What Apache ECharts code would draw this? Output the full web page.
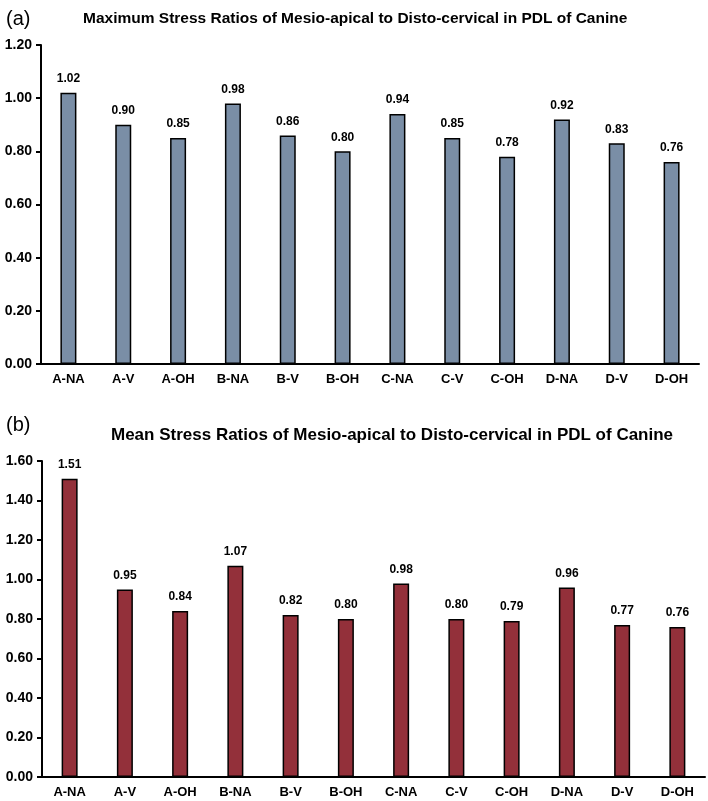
<!DOCTYPE html>
<html>
<head>
<meta charset="utf-8">
<script src="https://cdn.jsdelivr.net/npm/echarts@6/dist/echarts.min.js"></script>
<style>
  html, body { margin: 0; padding: 0; background: #fff; }
  #main { width: 708px; height: 801px; }
</style>
</head>
<body>
<div id="main"></div>
<script>
"use strict";

const categories = ["A-NA", "A-V", "A-OH", "B-NA", "B-V", "B-OH", "C-NA", "C-V", "C-OH", "D-NA", "D-V", "D-OH"];
const maxRatios = [1.02, 0.90, 0.85, 0.98, 0.86, 0.80, 0.94, 0.85, 0.78, 0.92, 0.83, 0.76];
const meanRatios = [1.51, 0.95, 0.84, 1.07, 0.82, 0.80, 0.98, 0.80, 0.79, 0.96, 0.77, 0.76];

let chartDom = document.getElementById("main");
let myChart = echarts.init(chartDom);

const font = "Liberation Sans, Arial, sans-serif";

function xAxisFor(idx) {
  return {
    type: "category",
    gridIndex: idx,
    data: categories,
    axisLine: { lineStyle: { color: "#000", width: 2 } },
    axisTick: { alignWithLabel: true, length: 5, lineStyle: { color: "#000", width: 2 } },
    axisLabel: { color: "#000", fontWeight: "bold", fontSize: 13, fontFamily: font, margin: 9, interval: 0 },
  };
}

function yAxisFor(idx, max) {
  return {
    type: "value",
    gridIndex: idx,
    min: 0,
    max: max,
    interval: 0.2,
    splitLine: { show: false },
    axisLine: { show: true, lineStyle: { color: "#000", width: 2 } },
    axisTick: { show: true, length: 5, lineStyle: { color: "#000", width: 2 } },
    axisLabel: {
      color: "#000", fontWeight: "bold", fontSize: 14, fontFamily: font, margin: 9,
      formatter: (v) => v.toFixed(2),
    },
  };
}

function barSeries(idx, data, color) {
  return {
    type: "bar",
    xAxisIndex: idx,
    yAxisIndex: idx,
    data: data,
    barWidth: 16,
    itemStyle: { color: color, borderColor: "#000", borderWidth: 1.5 },
    label: {
      show: true,
      position: "top",
      distance: 8,
      color: "#000",
      fontWeight: "bold",
      fontSize: 12,
      fontFamily: font,
      formatter: (p) => p.value.toFixed(2),
    },
  };
}

let option = {
  animation: false,
  backgroundColor: "#fff",
  title: [
    {
      text: "(a)", left: 1, top: 4,
      textStyle: { fontSize: 20, fontWeight: "normal", color: "#000", fontFamily: font },
    },
    {
      text: "Maximum Stress Ratios of Mesio-apical to Disto-cervical in PDL of Canine",
      left: 78, top: 6,
      textStyle: { fontSize: 15.5, fontWeight: "bold", color: "#000", fontFamily: font },
    },
    {
      text: "(b)", left: 1, top: 410,
      textStyle: { fontSize: 20, fontWeight: "normal", color: "#000", fontFamily: font },
    },
    {
      text: "Mean Stress Ratios of Mesio-apical to Disto-cervical in PDL of Canine",
      left: 106, top: 422,
      textStyle: { fontSize: 17, fontWeight: "bold", color: "#000", fontFamily: font },
    },
  ],
  grid: [
    { left: 41, top: 45, right: 9, height: 319 },
    { left: 42, top: 461, right: 3, height: 316 },
  ],
  xAxis: [xAxisFor(0), xAxisFor(1)],
  yAxis: [yAxisFor(0, 1.2), yAxisFor(1, 1.6)],
  series: [
    barSeries(0, maxRatios, "#7a8ea6"),
    barSeries(1, meanRatios, "#93303a"),
  ],
};

option && myChart.setOption(option);
</script>
</body>
</html>
